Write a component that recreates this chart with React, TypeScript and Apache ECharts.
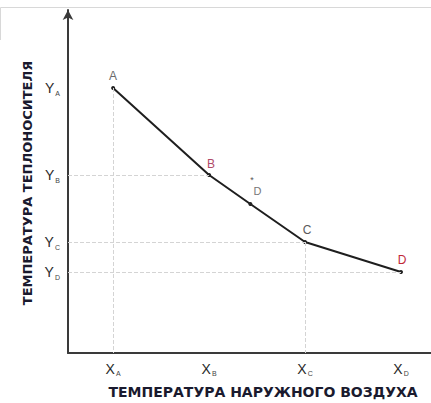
import React, { useEffect, useRef } from "react";
import * as echarts from "echarts";

// Outside-air temperature positions (X_A..X_D), equally spaced
const xValues = [1, 2, 2.43, 3, 4];
// Heat-carrier temperature (relative units)
const yValues = [26.5, 17.8, 14.9, 11.1, 8.1];
const pointNames = ["A", "B", "D'", "C", "D"];
const xTickValues = [1, 2, 3, 4];
const xTickLabels = ["A", "B", "C", "D"];
const yTickValues = [8.1, 11.1, 17.8, 26.5];
const yTickLabels = ["D", "C", "B", "A"];
const X_MIN = 0.53;
const X_MAX = 4.3125;
const Y_MIN = 0;
const Y_MAX = 34.3;
const yTitle = "ТЕМПЕРАТУРА ТЕПЛОНОСИТЕЛЯ";
const xTitle = "ТЕМПЕРАТУРА НАРУЖНОГО ВОЗДУХА";

const labelStyles: Record<string, any> = {
  A: { color: "#6a6a6a", offset: [0, 1] },
  B: { color: "#b04a68", offset: [2, 2] },
  C: { color: "#5a5a5a", offset: [2, 1] },
  D: { color: "#c02838", offset: [1, 1] },
};

export default function App() {
  const ref = useRef<HTMLDivElement>(null);
  useEffect(() => {
    document.body.style.margin = "0";
    const chart = echarts.init(ref.current!, null, { renderer: "svg" });
    const font = "'Liberation Sans', Arial, sans-serif";
    const titleFont = "'DejaVu Sans', 'Liberation Sans', sans-serif";
    const data = xValues.map((x, i) => {
      const name = pointNames[i];
      if (name === "D'") {
        return {
          value: [x, yValues[i]],
          name,
          label: {
            show: true,
            position: "top",
            offset: [0, 0],
            formatter: "{star|*}\n{d| D}",
            align: "left",
            rich: {
              star: { fontSize: 9, color: "#555", fontFamily: font, lineHeight: 10 },
              d: { fontSize: 11, color: "#777", fontFamily: font, lineHeight: 12 },
            },
          },
        };
      }
      const s = labelStyles[name];
      return {
        value: [x, yValues[i]],
        name,
        label: {
          show: true,
          position: "top",
          offset: s.offset,
          formatter: name,
          color: s.color,
          fontSize: 12,
          fontFamily: font,
        },
      };
    });
    const ptA = [xValues[0], yValues[0]];
    const ptB = [xValues[1], yValues[1]];
    const ptC = [xValues[3], yValues[3]];
    const ptD = [xValues[4], yValues[4]];
    const sub = (m: string, s: string) => `{m|${m}}{s|${s}}`;
    const richTick = {
      m: { fontSize: 14, color: "#2a2a2a", fontFamily: font },
      s: { fontSize: 7, color: "#444", fontFamily: font, padding: [10, 0, 0, 1] },
    };
    chart.setOption({
      animation: false,
      backgroundColor: "#ffffff",
      grid: { left: 68, right: 0, top: 10, bottom: 50, containLabel: false },
      xAxis: {
        type: "value",
        min: X_MIN,
        max: X_MAX,
        axisLine: { show: true, lineStyle: { color: "#3a3a3a", width: 2 } },
        axisTick: { show: false },
        splitLine: { show: false },
        axisLabel: {
          customValues: xTickValues,
          formatter: (v: number) => {
            const i = xTickValues.indexOf(v);
            return i >= 0 ? sub("X", xTickLabels[i]) : "";
          },
          rich: richTick,
          margin: 7,
        },
      },
      yAxis: {
        type: "value",
        min: Y_MIN,
        max: Y_MAX,
        axisLine: {
          show: true,
          symbol: ["none", "arrow"],
          symbolSize: [8, 10],
          lineStyle: { color: "#3a3a3a", width: 2 },
        },
        axisTick: { show: false },
        splitLine: { show: false },
        axisLabel: {
          customValues: yTickValues,
          formatter: (v: number) => {
            const i = yTickValues.indexOf(v);
            return i >= 0 ? sub("Y", yTickLabels[i]) : "";
          },
          rich: richTick,
          margin: 8,
        },
      },
      series: [
        {
          type: "line",
          data,
          symbol: "circle",
          symbolSize: 4,
          itemStyle: { color: "#222" },
          lineStyle: { color: "#1e1e1e", width: 2 },
          markLine: {
            silent: true,
            symbol: ["none", "none"],
            label: { show: false },
            lineStyle: { type: "dashed", color: "#d4d4d4", width: 1 },
            data: [
              [{ coord: ptA }, { coord: [ptA[0], Y_MIN] }],
              [{ coord: [X_MIN, ptB[1]] }, { coord: ptB }],
              [{ coord: [X_MIN, ptC[1]] }, { coord: ptC }],
              [{ coord: ptC }, { coord: [ptC[0], Y_MIN] }],
              [{ coord: [X_MIN, ptD[1]] }, { coord: ptD }],
            ],
          },
        },
      ],
      graphic: [
        {
          type: "polyline",
          shape: { points: [[0.5, 40], [0.5, 7.5], [431, 7.5]] },
          style: { stroke: "#d8d8d8", fill: "none", lineWidth: 1 },
          silent: true,
        },
        {
          type: "text",
          x: 27,
          y: 183,
          rotation: Math.PI / 2,
          style: {
            text: yTitle,
            fontSize: 13,
            fontWeight: "bold",
            fontFamily: titleFont,
            fill: "#1a1a2e",
            align: "center",
            verticalAlign: "middle",
          },
        },
        {
          type: "text",
          x: 263,
          y: 392,
          style: {
            text: xTitle,
            fontSize: 14,
            fontWeight: "bold",
            fontFamily: titleFont,
            fill: "#1a1a2e",
            align: "center",
            verticalAlign: "middle",
          },
        },
      ],
    });
    return () => chart.dispose();
  }, []);
  return <div ref={ref} style={{ width: 431, height: 403 }} />;
}
